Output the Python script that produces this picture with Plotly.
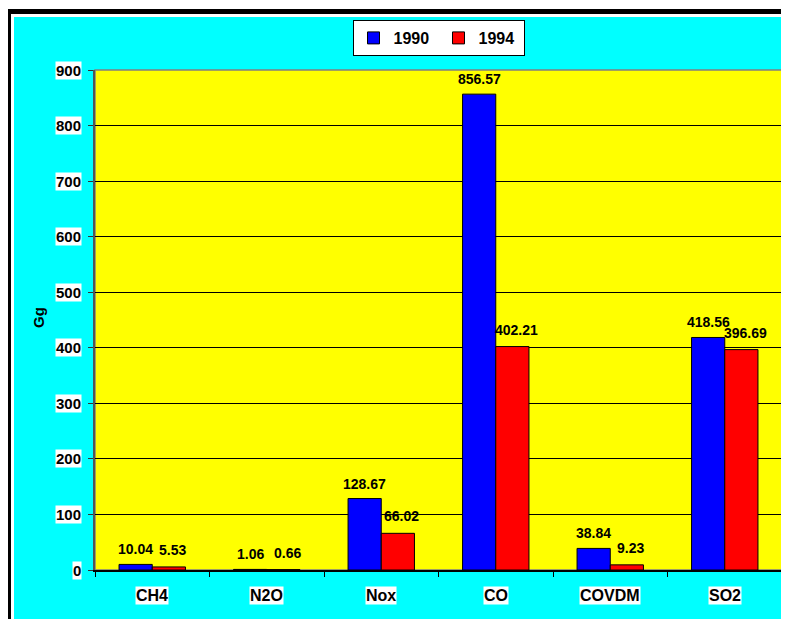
import plotly.graph_objects as go

categories = ["CH4", "N2O", "Nox", "CO", "COVDM", "SO2"]
series_names = ["1990", "1994"]
values_1990 = [10.04, 1.06, 128.67, 856.57, 38.84, 418.56]
values_1994 = [5.53, 0.66, 66.02, 402.21, 9.23, 396.69]
y_ticks = [0, 100, 200, 300, 400, 500, 600, 700, 800, 900]
y_title = "Gg"

# page is rendered with an 8px body margin; compensate
OFF = 8
PAGE_W, PAGE_H = 789, 619
W, H = PAGE_W - OFF, PAGE_H - OFF
PL, PR, PT, PB = 95, 782, 70, 570          # plot area in page pixels
L, R, T, B = PL - OFF, PAGE_W - PR, PT - OFF, PAGE_H - PB
pw, ph = PR - PL, PB - PT
BARGAP = 0.42

def px(x):
    return (x - PL) / pw

def py(y):
    return (PB - y) / ph

FONT = "Arial, Liberation Sans, sans-serif"
bold = dict(family=FONT, color="black", weight="bold")

fig = go.Figure()
series = [(series_names[0], values_1990, "#0000FF"),
          (series_names[1], values_1994, "#FF0000")]
for name, vals, col in series:
    fig.add_trace(go.Bar(
        x=categories, y=vals, name=name,
        marker=dict(color=col, line=dict(color="black", width=1)),
    ))

shapes = [
    dict(type="rect", xref="paper", yref="paper", x0=px(6), x1=px(900), y0=py(9), y1=py(700),
         fillcolor="black", line=dict(width=0), layer="below"),
    dict(type="rect", xref="paper", yref="paper", x0=px(11), x1=px(900), y0=py(14), y1=py(700),
         fillcolor="white", line=dict(width=0), layer="below"),
    dict(type="rect", xref="paper", yref="paper", x0=px(14), x1=px(900), y0=py(17), y1=py(700),
         fillcolor="#00FFFF", line=dict(width=0), layer="below"),
    dict(type="rect", xref="paper", yref="paper", x0=0, x1=1, y0=0, y1=1,
         fillcolor="#FFFF00", line=dict(color="#808080", width=1.5), layer="below"),
]

annotations = []
# data labels above each bar
bar_w = (pw / len(categories)) * (1 - BARGAP) / 2
for i, (name, vals, col) in enumerate(series):
    for c, v in zip(categories, vals):
        annotations.append(dict(x=c, xref="x", y=v, yref="y", text=f"{v:.2f}", showarrow=False,
                                xanchor="center", yanchor="bottom",
                                xshift=(-bar_w / 2) if i == 0 else (bar_w / 2 + 4),
                                yshift=5 if i == 0 else 7,
                                font=dict(bold, size=14)))
for t in y_ticks:
    annotations.append(dict(x=0, xref="paper", y=t, yref="y", text=str(t), showarrow=False,
                            xanchor="right", yanchor="middle", xshift=-13, bgcolor="white",
                            borderpad=0, font=dict(bold, size=15)))
for c in categories:
    annotations.append(dict(x=c, xref="x", y=py(595), yref="paper", text=c, showarrow=False,
                            xanchor="center", yanchor="middle", bgcolor="white", borderpad=0,
                            font=dict(bold, size=16)))
annotations.append(dict(x=px(38), xref="paper", y=py(318), yref="paper", text=y_title,
                        showarrow=False, textangle=-90, xanchor="center", yanchor="middle",
                        font=dict(bold, size=15)))

fig.update_layout(
    width=W, height=H, margin=dict(l=L, r=R, t=T, b=B, pad=0),
    paper_bgcolor="white", plot_bgcolor="rgba(0,0,0,0)",
    barmode="group", bargap=BARGAP, bargroupgap=0,
    shapes=shapes, annotations=annotations,
    showlegend=True,
    legend=dict(orientation="h", x=0.5, xanchor="center", y=py(20), yanchor="top",
                bgcolor="white", bordercolor="black", borderwidth=1,
                font=dict(bold, size=16), itemwidth=30, entrywidth=40, tracegroupgap=0),
    xaxis=dict(showticklabels=False, ticks="outside", tickson="boundaries", ticklen=5,
               tickcolor="black", showline=True, linecolor="black", linewidth=1.5,
               showgrid=False, zeroline=False),
    yaxis=dict(range=[0, 900], tickvals=y_ticks, showticklabels=False, ticks="outside",
               ticklen=5, tickcolor="#333333", showline=True, linecolor="#555555", linewidth=1.5,
               showgrid=True, gridcolor="black", gridwidth=1, zeroline=False),
)

fig.write_html("out.html")
